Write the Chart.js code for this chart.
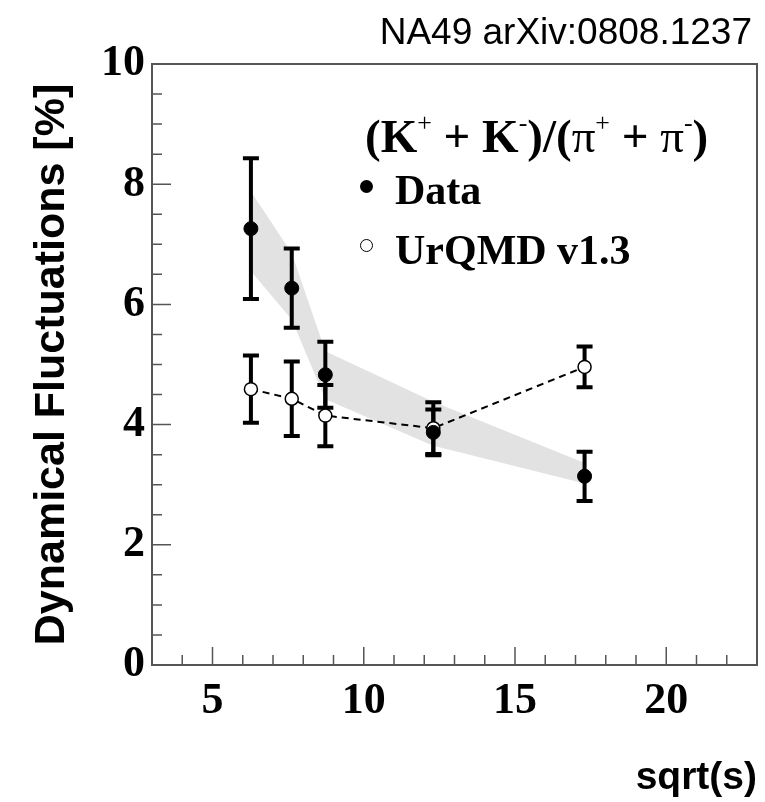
<!DOCTYPE html>
<html>
<head>
<meta charset="utf-8">
<script src="https://cdn.jsdelivr.net/npm/chart.js@4.4.1/dist/chart.umd.min.js"></script>
<style>
  body { margin: 0; background: #fff; }
  #wrap { position: relative; width: 765px; height: 802px; }
  .txt { position: absolute; white-space: nowrap; color: #000; line-height: 1; }
  #ref { right: 13px; top: 11px; font: 37px "Liberation Sans", Arial, sans-serif; }
  .leg { font: bold 42px "Liberation Serif", "Times New Roman", serif; }
  .head { font-size: 47px; }
  .leg sup { font-size: 0.55em; vertical-align: 0.8em; line-height: 0; font-weight: normal; }
  .pi { font-weight: normal; }
  .dot { position: absolute; width: 13px; height: 13px; border-radius: 50%; box-sizing: border-box; }
  .full { background: #000; }
  .open { background: #fff; border: 1.5px solid #000; }
</style>
</head>
<body>
<div id="wrap">
  <canvas id="fluct" width="765" height="802"></canvas>
  <div class="txt" id="ref">NA49 arXiv:0808.1237</div>
  <div class="txt leg head" style="left:365px; top:109px">(K<sup>+</sup> + K<sup>-</sup>)/(<span class="pi">π</span><sup>+</sup> + <span class="pi">π</span><sup>-</sup>)</div>
  <div class="dot full" style="left:360px; top:180px"></div>
  <div class="txt leg" style="left:395px; top:166px">Data</div>
  <div class="dot open" style="left:360px; top:239px"></div>
  <div class="txt leg" style="left:395px; top:226px">UrQMD v1.3</div>
</div>
<script>
// sqrt(s) of the five NA49 energies
const sqrtS = [6.27, 7.62, 8.73, 12.3, 17.3];

// NA49 data with statistical errors
const dataVal = [7.26, 6.27, 4.83, 3.87, 3.14];
const dataErr = [1.17, 0.66, 0.55, 0.38, 0.41];

// UrQMD v1.3
const urqmdVal = [4.59, 4.43, 4.15, 3.94, 4.96];
const urqmdErr = [0.56, 0.62, 0.51, 0.43, 0.34];

// systematic error band of the data
const sysHigh = [7.88, 6.85, 5.22, 4.38, 3.36];
const sysLow = [6.55, 5.75, 4.42, 3.65, 3.02];

const xTicks = [5, 10, 15, 20];
const yTicks = [0, 2, 4, 6, 8, 10];

const toPts = ys => sqrtS.map((x, i) => ({ x: x, y: ys[i] }));

// error bars, drawn after the band and before the markers
const errorBars = {
    id: 'errorBars',
    afterDatasetDraw(chart, args) {
        if (args.index !== 2) return;
        const ctx = chart.ctx;
        const xs = chart.scales.x, ys = chart.scales.y;
        ctx.save();
        ctx.strokeStyle = '#000';
        ctx.lineWidth = 4;
        [[dataVal, dataErr], [urqmdVal, urqmdErr]].forEach(([vals, errs]) => {
            vals.forEach((v, i) => {
                const px = xs.getPixelForValue(sqrtS[i]);
                const top = ys.getPixelForValue(v + errs[i]);
                const bot = ys.getPixelForValue(v - errs[i]);
                ctx.beginPath();
                ctx.moveTo(px, top); ctx.lineTo(px, bot);
                ctx.moveTo(px - 8, top); ctx.lineTo(px + 8, top);
                ctx.moveTo(px - 8, bot); ctx.lineTo(px + 8, bot);
                ctx.stroke();
            });
        });
        ctx.restore();
    }
};

// ROOT style frame with ticks pointing inside
const rootFrame = {
    id: 'rootFrame',
    beforeDatasetsDraw(chart) {
        const { ctx, chartArea: a, scales: { x, y } } = chart;
        ctx.save();
        ctx.strokeStyle = '#555';
        ctx.lineWidth = 2;
        ctx.strokeRect(a.left, a.top, a.right - a.left, a.bottom - a.top);
        ctx.lineWidth = 1.5;
        ctx.beginPath();
        for (let v = x.min; v <= x.max; v += 1) {
            const px = x.getPixelForValue(v);
            const len = xTicks.includes(v) ? 18 : 10;
            ctx.moveTo(px, a.bottom); ctx.lineTo(px, a.bottom - len);
        }
        for (let v = y.min; v <= y.max; v += 0.5) {
            const py = y.getPixelForValue(v);
            const len = yTicks.includes(v) ? 19 : 10;
            ctx.moveTo(a.left, py); ctx.lineTo(a.left + len, py);
        }
        ctx.stroke();
        ctx.restore();
    }
};

const tickFont = { family: 'Liberation Serif', weight: 'bold', size: 44 };

new Chart(document.getElementById('fluct'), {
    type: 'scatter',
    data: {
        datasets: [
            {
                label: 'Data',
                data: toPts(dataVal),
                pointRadius: 7,
                pointBackgroundColor: '#000',
                pointBorderColor: '#000',
                showLine: false
            },
            {
                label: 'UrQMD v1.3',
                data: toPts(urqmdVal),
                showLine: true,
                borderColor: '#000',
                borderWidth: 2,
                borderDash: [7, 5],
                pointRadius: 6.5,
                pointBorderWidth: 1.5,
                pointBackgroundColor: '#fff',
                pointBorderColor: '#000'
            },
            {
                label: 'sys high',
                data: toPts(sysHigh),
                showLine: true,
                borderColor: 'transparent',
                pointRadius: 0,
                fill: false
            },
            {
                label: 'sys low',
                data: toPts(sysLow),
                showLine: true,
                borderColor: 'transparent',
                pointRadius: 0,
                backgroundColor: '#e2e2e2',
                fill: '-1'
            }
        ]
    },
    options: {
        responsive: false,
        animation: false,
        events: [],
        layout: { padding: { top: 64, right: 6, left: 0, bottom: 0 } },
        scales: {
            x: {
                type: 'linear',
                min: 3,
                max: 23,
                grid: { display: false, drawTicks: false },
                border: { display: false },
                afterBuildTicks: s => { s.ticks = xTicks.map(v => ({ value: v })); },
                ticks: {
                    color: '#000',
                    padding: 10,
                    font: tickFont
                },
                title: {
                    display: true,
                    text: 'sqrt(s)',
                    align: 'end',
                    color: '#000',
                    padding: 0,
                    font: { family: 'Liberation Sans', weight: 'bold', size: 39 }
                },
                afterFit: s => { s.height = 137; }
            },
            y: {
                type: 'linear',
                min: 0,
                max: 10,
                grid: { display: false, drawTicks: false },
                border: { display: false },
                afterBuildTicks: s => { s.ticks = yTicks.map(v => ({ value: v })); },
                ticks: {
                    color: '#000',
                    padding: 7,
                    font: tickFont
                },
                title: {
                    display: true,
                    text: 'Dynamical Fluctuations [%]',
                    color: '#000',
                    padding: { top: 26, bottom: 0 },
                    font: { family: 'Liberation Sans', weight: 'bold', size: 43 }
                },
                afterFit: s => { s.width = 152; }
            }
        },
        plugins: {
            legend: { display: false },
            tooltip: { enabled: false }
        }
    },
    plugins: [rootFrame, errorBars]
});
</script>
</body>
</html>
